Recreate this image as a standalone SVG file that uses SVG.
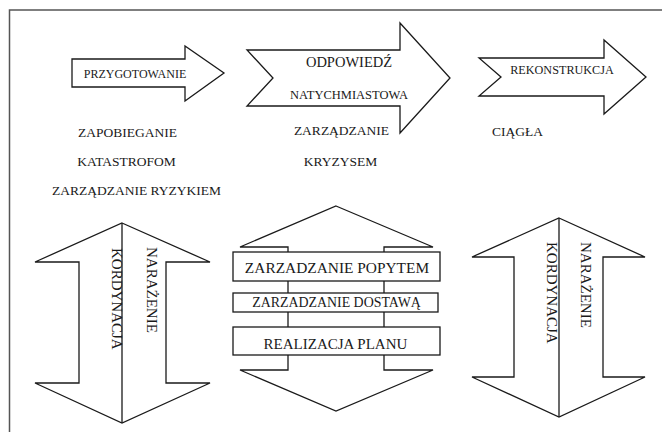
<svg xmlns="http://www.w3.org/2000/svg" width="662" height="432" viewBox="0 0 662 432">
<style>
.frame{fill:none;stroke:#555;stroke-width:1.5}
.shape{fill:#fff;stroke:#1a1a1a;stroke-width:1.3;stroke-linejoin:miter}
.ln{fill:none;stroke:#1a1a1a;stroke-width:1.3}
text{font-family:"Liberation Serif","Times New Roman",serif;fill:#1a1a1a}
.t{font-size:13.5px;text-anchor:middle}
.v{font-size:15px}
</style>
<rect width="662" height="432" fill="#fff"/>
<path class="frame" d="M9.5,432 V10 H662"/>

<g id="przygotowanie">
<path class="shape" d="M72,59 H185 V46 L224,73 L185,101 V87 H72 Z"/>
<text x="135" y="77.5" style="font-size:12px;text-anchor:middle">PRZYGOTOWANIE</text>
</g>

<g id="odpowiedz">
<path class="shape" d="M247,50 H400 V23 L450,78 L400,133 V106 H247 L273,78 Z"/>
<text x="349" y="67" style="font-size:14.5px;text-anchor:middle">ODPOWIEDŹ</text>
<text x="349" y="98.5" style="font-size:12.5px;text-anchor:middle">NATYCHMIASTOWA</text>
</g>

<g id="rekonstrukcja">
<path class="shape" d="M479,58 H604 V40 L646,77 L604,114 V96 H479 L501,77 Z"/>
<text x="562" y="73.5" style="font-size:12.2px;text-anchor:middle">REKONSTRUKCJA</text>
</g>

<g id="labels-left">
<text class="t" x="127.5" y="136.5">ZAPOBIEGANIE</text>
<text class="t" x="126.5" y="165.5">KATASTROFOM</text>
<text class="t" x="136.5" y="194.5">ZARZĄDZANIE RYZYKIEM</text>
</g>
<g id="labels-mid">
<text class="t" x="341.5" y="134.5">ZARZĄDZANIE</text>
<text class="t" x="340.5" y="165.5">KRYZYSEM</text>
</g>
<g id="labels-right">
<text class="t" x="517.5" y="135.5">CIĄGŁA</text>
</g>

<g id="left-double-arrow">
<path class="shape" d="M122,223 L210,262 H166 V383 H210 L122,423 L35,383 H79 V262 H35 Z"/>
<path class="ln" d="M122,223 V423"/>
<text class="v" transform="translate(112,248) rotate(90)">KORDYNACJA</text>
<text class="v" transform="translate(147,247) rotate(90)">NARAŻENIE</text>
</g>

<g id="middle-double-arrow">
<path class="shape" d="M336,206 L433,247 H384 V370 H433 L336,411 L240,370 H288 V247 H240 Z"/>
<g id="box-popyt">
<rect class="shape" x="233" y="252" width="207" height="29"/>
<text x="337" y="272.5" style="font-size:15.4px;text-anchor:middle">ZARZADZANIE POPYTEM</text>
</g>
<g id="box-dostawa">
<rect class="shape" x="233" y="293" width="205" height="19"/>
<text x="336.5" y="307" style="font-size:13.9px;text-anchor:middle">ZARZADZANIE DOSTAWĄ</text>
</g>
<g id="box-plan">
<rect class="shape" x="233" y="327" width="207" height="28"/>
<text x="335.5" y="348.5" style="font-size:15px;text-anchor:middle">REALIZACJA PLANU</text>
</g>
</g>

<g id="right-double-arrow">
<path class="shape" d="M559,218 L645,257 H603 V377 H645 L559,417 L472,377 H514 V257 H472 Z"/>
<path class="ln" d="M559,218 V417"/>
<text class="v" transform="translate(547,242) rotate(90)">KORDYNACJA</text>
<text class="v" transform="translate(581,242) rotate(90)">NARAŻENIE</text>
</g>
</svg>
